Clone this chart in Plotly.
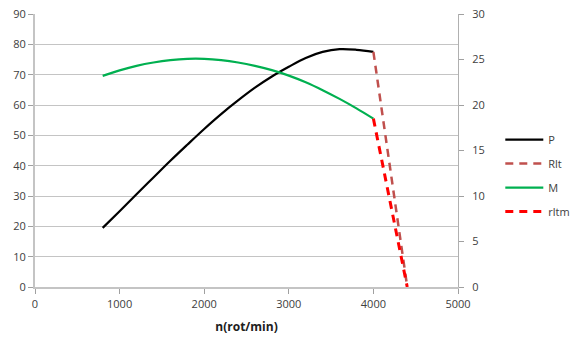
import plotly.graph_objects as go

rpm = [800, 1000, 1200, 1400, 1600, 1800, 2000, 2200, 2400, 2600, 2800, 3000, 3200, 3400, 3600, 3800, 4000]
P = [19.5, 25.0, 30.6, 36.1, 41.6, 46.9, 52.1, 57.0, 61.5, 65.7, 69.4, 72.6, 75.5, 77.5, 78.4, 78.2, 77.5]
M = [23.2, 23.8, 24.3, 24.67, 24.93, 25.07, 25.07, 24.93, 24.67, 24.3, 23.83, 23.23, 22.5, 21.63, 20.67, 19.63, 18.5]
rlt_rpm = [4000, 4400]
Rlt = [77.5, 0]
rltm_rpm = [4000, 4400]
rltm = [18.5, 0]

x_ticks = [0, 1000, 2000, 3000, 4000, 5000]
y1_ticks = [0, 10, 20, 30, 40, 50, 60, 70, 80, 90]
y2_ticks = [0, 5, 10, 15, 20, 25, 30]

FONT = "Open Sans"
TXT = "#404040"
GRID = "#c4c4c4"

fig = go.Figure()
fig.add_trace(go.Scatter(x=rpm, y=P, name="P", mode="lines", legendgroup="a",
                         line=dict(color="#000000", width=2.2, shape="spline")))
fig.add_trace(go.Scatter(x=rlt_rpm, y=Rlt, name="Rlt", mode="lines", legendgroup="b",
                         line=dict(color="#c0504d", width=2.5, dash="8px,6px")))
fig.add_trace(go.Scatter(x=rpm, y=M, name="M", mode="lines", yaxis="y2", legendgroup="c",
                         line=dict(color="#00b050", width=2.2, shape="spline")))
fig.add_trace(go.Scatter(x=rltm_rpm, y=rltm, name="rltm", mode="lines", yaxis="y2", legendgroup="d",
                         line=dict(color="#ff0000", width=3, dash="8px,6px")))

fig.update_layout(
    width=581, height=352,
    margin=dict(l=35, r=123, t=14, b=65, autoexpand=False),
    paper_bgcolor="white", plot_bgcolor="white",
    font=dict(family=FONT, size=11, color=TXT),
    showlegend=True,
    legend=dict(x=1.10, y=0.593, xanchor="left", yanchor="top", itemwidth=38,
                font=dict(family=FONT, size=11, color=TXT),
                tracegroupgap=5, bgcolor="rgba(0,0,0,0)"),
    xaxis=dict(range=[0, 5000], tickvals=x_ticks, ticks="outside", ticklen=5,
               tickcolor="#a0a0a0", showline=True, linecolor=GRID, linewidth=2,
               showgrid=False, zeroline=False, automargin=False, ticklabelstandoff=1,
               title=dict(text="<b>n(rot/min)</b>", font=dict(family=FONT, size=12, color="#202020"),
                          standoff=12),
               tickfont=dict(family=FONT, size=11, color=TXT)),
    yaxis=dict(range=[0, 90], tickvals=y1_ticks, ticks="outside", ticklen=5,
               tickcolor="#a0a0a0", showline=True, linecolor=GRID, linewidth=2,
               showgrid=True, gridcolor=GRID, gridwidth=1, zeroline=False, automargin=False,
               tickfont=dict(family=FONT, size=11, color=TXT)),
    yaxis2=dict(range=[0, 30], tickvals=y2_ticks, overlaying="y", side="right",
                ticks="outside", ticklen=5, tickcolor="#a0a0a0",
                showline=True, linecolor="#b0b0b0", linewidth=1,
                showgrid=False, zeroline=False, automargin=False, ticklabelstandoff=6,
                tickfont=dict(family=FONT, size=11, color=TXT)),
)

fig.write_html("out.html")
